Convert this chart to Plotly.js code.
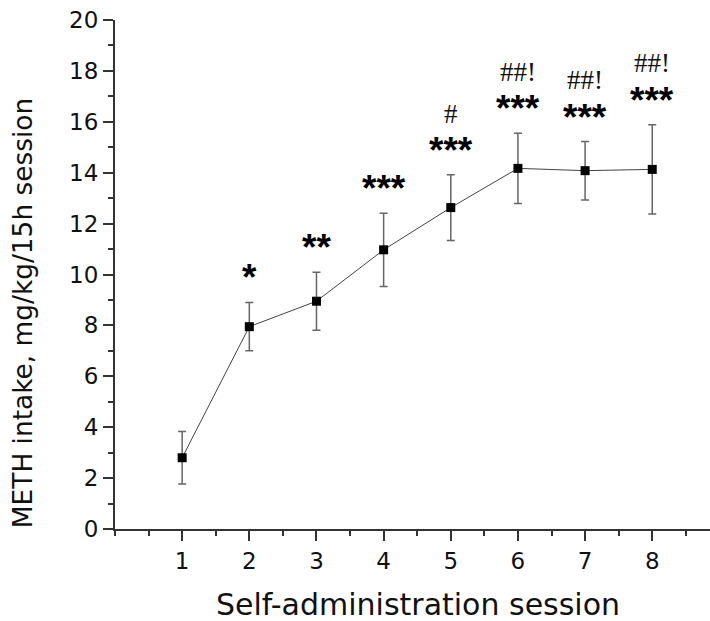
<!DOCTYPE html>
<html>
<head>
<meta charset="utf-8">
<script src="https://cdn.plot.ly/plotly-3.0.1.min.js"></script>
<style>html,body{margin:0;padding:0;background:#fff;}#chart{width:710px;height:621px;}</style>
</head>
<body>
<div id="chart"></div>
<script>
const sessions = [1, 2, 3, 4, 5, 6, 7, 8];
const intake = [2.8, 7.95, 8.95, 10.97, 12.63, 14.17, 14.08, 14.13];
const sem = [1.03, 0.95, 1.14, 1.44, 1.29, 1.38, 1.15, 1.75];
const starLabels = ["", "*", "**", "***", "***", "***", "***", "***"];
const starY = [null, 10.1, 11.3, 13.6, 15.1, 16.77, 16.42, 17.08];
const hashLabels = ["", "", "", "", "#", "##!", "##!", "##!"];
const hashY = [null, null, null, null, 16.3, 17.97, 17.64, 18.3];
const xTitle = 'Self-administration session';
const yTitle = 'METH intake, mg/kg/15h session';

const annotations = [];
sessions.forEach((s, i) => {
  if (starLabels[i]) annotations.push({x: s, y: starY[i], xref: 'x', yref: 'y', text: starLabels[i], showarrow: false,
    font: {family: 'Liberation Sans, Arial, sans-serif', size: 37, color: '#000', weight: 'bold'}, yanchor: 'middle', yshift: -6});
  if (hashLabels[i]) annotations.push({x: s, y: hashY[i], xref: 'x', yref: 'y', text: hashLabels[i], showarrow: false,
    font: {family: 'Liberation Serif, Times New Roman, serif', size: 27, color: '#111'}, yanchor: 'middle'});
});
annotations.push({xref: 'paper', yref: 'paper', x: 0.509, y: -0.149, text: xTitle, showarrow: false,
  xanchor: 'center', yanchor: 'middle', font: {family: 'DejaVu Sans, sans-serif', size: 30, color: '#111'}});
annotations.push({xref: 'paper', yref: 'paper', x: -0.1563, y: 0.424, text: yTitle, showarrow: false, textangle: -90,
  xanchor: 'center', yanchor: 'middle', font: {family: 'DejaVu Sans, sans-serif', size: 26.4, color: '#111'}});

const trace = {
  x: sessions, y: intake, type: 'scatter', mode: 'lines+markers',
  line: {color: '#444', width: 1},
  marker: {symbol: 'square', size: 9, color: '#000'},
  error_y: {type: 'data', array: sem, visible: true, color: '#666', thickness: 1.5, width: 4},
  cliponaxis: false
};

const axisFont = {family: 'DejaVu Sans, sans-serif', size: 23, color: '#111'};
const layout = {
  width: 710, height: 621,
  margin: {l: 115, r: 0, t: 20, b: 92},
  paper_bgcolor: '#fff', plot_bgcolor: '#fff',
  showlegend: false,
  xaxis: {
    range: [0, 8.86], tickvals: sessions, ticktext: sessions.map(String),
    ticks: 'outside', ticklen: 10, tickwidth: 2, tickcolor: '#333',
    showline: true, linecolor: '#333', linewidth: 2, showgrid: false, zeroline: false,
    tickfont: axisFont,
    minor: {dtick: 0.5, tick0: 0.5, ticks: 'outside', ticklen: 5, tickwidth: 2, tickcolor: '#333'}
  },
  yaxis: {
    range: [0, 20], dtick: 2, tick0: 0,
    ticks: 'outside', ticklen: 10, tickwidth: 2, tickcolor: '#333',
    showline: true, linecolor: '#333', linewidth: 2, showgrid: false, zeroline: false,
    tickfont: axisFont,
    minor: {dtick: 1, ticks: 'outside', ticklen: 5, tickwidth: 2, tickcolor: '#333'}
  },
  annotations: annotations
};

Plotly.newPlot('chart', [trace], layout, {staticPlot: true});
</script>
</body>
</html>
